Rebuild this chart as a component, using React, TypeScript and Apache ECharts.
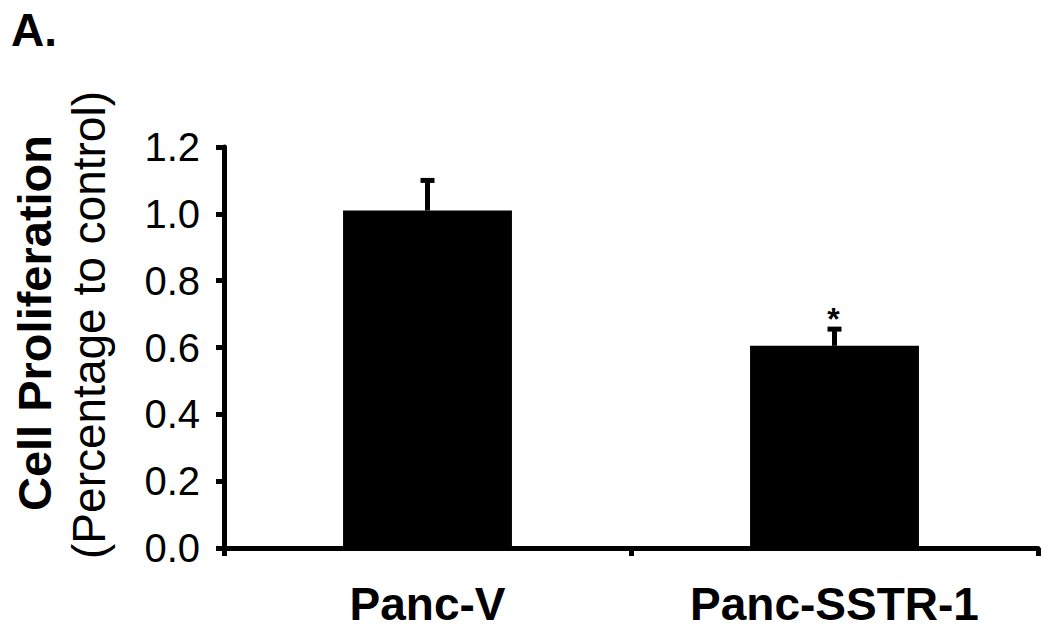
import React, { useEffect, useRef } from "react";
import * as echarts from "echarts";

const categories = ["Panc-V", "Panc-SSTR-1"];
const meanValues = [1.01, 0.605];
const upperErrors = [1.1, 0.655];
const sigMarks = ["", "*"];
const yTicks = { min: 0, max: 1.2, interval: 0.2 };

const FONT = "'Liberation Sans', Arial, Helvetica, sans-serif";

export default function App() {
  const ref = useRef<HTMLDivElement>(null);
  useEffect(() => {
    if (!ref.current) return;
    const chart = echarts.init(ref.current, null, { renderer: "svg" });
    const errData = categories.map((c, i) => [i, meanValues[i], upperErrors[i], sigMarks[i]]);
    chart.setOption({
      animation: false,
      backgroundColor: "#ffffff",
      grid: { left: 224, right: 12, top: 147, bottom: 85, containLabel: false },
      xAxis: {
        type: "category",
        data: categories,
        boundaryGap: true,
        axisLine: { show: true, lineStyle: { color: "#000", width: 5 } },
        axisTick: { show: true, alignWithLabel: false, length: 8, lineStyle: { color: "#000", width: 5 } },
        axisLabel: { color: "#000", fontFamily: FONT, fontSize: 46, fontWeight: "bold", margin: 33 },
        splitLine: { show: false },
      },
      yAxis: {
        type: "value",
        min: yTicks.min,
        max: yTicks.max,
        interval: yTicks.interval,
        axisLine: { show: true, lineStyle: { color: "#000", width: 5 } },
        axisTick: { show: true, length: 8, lineStyle: { color: "#000", width: 5 } },
        axisLabel: {
          color: "#000",
          fontFamily: FONT,
          fontSize: 40,
          margin: 24,
          formatter: (v: number) => v.toFixed(1),
        },
        splitLine: { show: false },
      },
      series: [
        {
          type: "bar",
          data: meanValues,
          barWidth: "41.5%",
          itemStyle: { color: "#000" },
          z: 2,
        },
        {
          type: "custom",
          data: errData,
          z: 3,
          renderItem: (params: any, api: any) => {
            const idx = api.value(0);
            const base = api.coord([idx, api.value(1)]);
            const top = api.coord([idx, api.value(2)]);
            const mark = sigMarks[params.dataIndex];
            const children: any[] = [
              {
                type: "line",
                shape: { x1: base[0], y1: base[1], x2: top[0], y2: top[1] },
                style: { stroke: "#000", lineWidth: 5 },
              },
              {
                type: "line",
                shape: { x1: top[0] - 7, y1: top[1], x2: top[0] + 7, y2: top[1] },
                style: { stroke: "#000", lineWidth: 5 },
              },
            ];
            if (mark) {
              children.push({
                type: "text",
                x: top[0] - 1,
                y: top[1] - 10,
                style: {
                  text: mark,
                  fill: "#000",
                  font: `bold 32px ${FONT}`,
                  textAlign: "center",
                  textVerticalAlign: "middle",
                },
              });
            }
            return { type: "group", children };
          },
        },
      ],
      graphic: [
        {
          type: "text",
          x: 11,
          y: 30,
          style: {
            text: "A.",
            fill: "#000",
            font: `bold 46px ${FONT}`,
            textAlign: "left",
            textVerticalAlign: "middle",
          },
        },
        {
          type: "text",
          x: 34,
          y: 323,
          rotation: Math.PI / 2,
          style: {
            text: "Cell Proliferation",
            fill: "#000",
            font: `bold 47px ${FONT}`,
            textAlign: "center",
            textVerticalAlign: "middle",
          },
        },
        {
          type: "text",
          x: 89,
          y: 325,
          rotation: Math.PI / 2,
          style: {
            text: "(Percentage to control)",
            fill: "#000",
            font: `46px ${FONT}`,
            textAlign: "center",
            textVerticalAlign: "middle",
          },
        },
      ],
    });
    return () => chart.dispose();
  }, []);
  return (
    <div
      ref={ref}
      style={{ position: "fixed", left: 0, top: 0, width: 1050, height: 633, background: "#fff" }}
    />
  );
}
